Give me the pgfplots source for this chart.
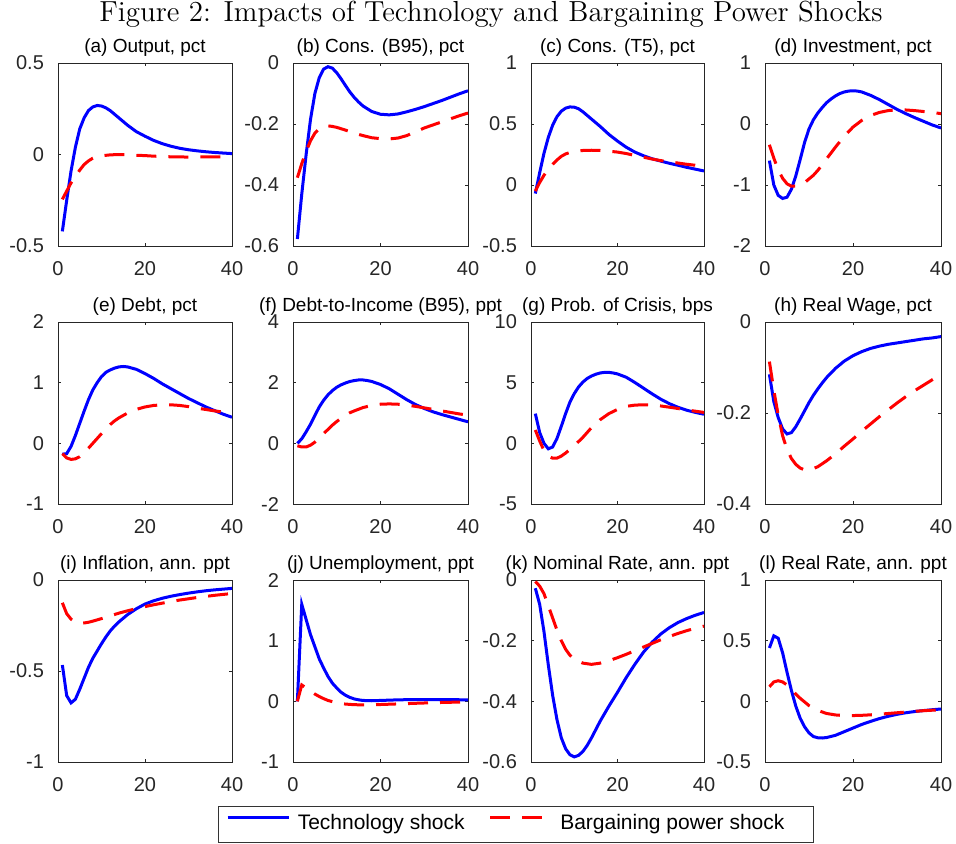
\documentclass[border=0pt]{standalone}
\usepackage{fontspec}
\usepackage{pgfplots}
\pgfplotsset{compat=1.18}
\newfontfamily\arial{Liberation Sans}
\pgfplotsset{
  panel/.style={
    scale only axis, anchor=north west,
    xmin=0, xmax=40, xtick={0,20,40},
    scaled ticks=false,
    axis line style={draw=black!85, line width=0.5pt},
    tick style={draw=black!85, line width=0.5pt},
    major tick length=1.5pt, tick align=inside,
    ticklabel style={font=\arial\fontsize{10}{12}\selectfont, text=black!85},
    xticklabel style={inner sep=0pt, anchor=north, yshift=-7.8pt},
    yticklabel style={inner sep=0pt, anchor=east, xshift=-6.85pt},
    /pgf/number format/assume math mode=true,
    title style={font=\arial\fontsize{9.5}{11}\selectfont, at={(0.5,1)}, anchor=base, yshift=-0.5pt, inner sep=0pt},
  },
  tech/.style={color=blue, line width=1.5pt, solid},
  barg/.style={color=red, line width=1.5pt, dash pattern=on 10pt off 6pt},
}
\begin{document}
\begin{tikzpicture}
\path[use as bounding box] (0,0) rectangle (478pt,-421.5pt);
\node[anchor=base, font=\fontsize{14.5}{17}\selectfont, inner sep=0pt] at (245.5pt,-10.8pt) {Figure 2: Impacts of Technology and Bargaining Power Shocks};

% ---------- Row 1 ----------
\begin{axis}[panel, at={(29pt,-31.5pt)}, width=87pt, height=91.5pt,
  ymin=-0.5, ymax=0.5, ytick={-0.5,0,0.5}, title={(a) Output, pct}]
\addplot[tech] coordinates {(1,-0.42)(2,-0.25)(3,-0.09)(4,0.04)(5,0.14)(6,0.2)(7,0.24)(8,0.26)(9,0.268)(10,0.265)(11,0.255)(12,0.24)(13,0.22)(14,0.2)(16,0.16)(18,0.125)(20,0.1)(22,0.077)(24,0.059)(26,0.045)(28,0.034)(30,0.026)(32,0.02)(34,0.015)(36,0.011)(38,0.008)(40,0.005)};
\addplot[barg] coordinates {(1,-0.245)(2,-0.2)(3,-0.155)(4,-0.12)(5,-0.085)(6,-0.055)(7,-0.035)(8,-0.02)(9,-0.012)(10,-0.007)(12,-0.002)(14,0.0)(16,-0.001)(18,-0.004)(20,-0.006)(22,-0.009)(25,-0.012)(30,-0.014)(35,-0.013)(40,-0.012)};
\end{axis}

\begin{axis}[panel, at={(146.5pt,-31.5pt)}, width=87.5pt, height=91.5pt,
  ymin=-0.6, ymax=0, ytick={-0.6,-0.4,-0.2,0}, title={(b) Cons. (B95), pct}]
\addplot[tech] coordinates {(1,-0.577)(2,-0.43)(3,-0.3)(4,-0.185)(5,-0.1)(6,-0.048)(7,-0.02)(8,-0.012)(9,-0.017)(10,-0.032)(11,-0.052)(12,-0.074)(13,-0.095)(14,-0.113)(15,-0.128)(16,-0.141)(18,-0.159)(20,-0.168)(22,-0.17)(24,-0.167)(26,-0.16)(28,-0.152)(30,-0.143)(32,-0.133)(34,-0.123)(36,-0.112)(38,-0.101)(40,-0.091)};
\addplot[barg] coordinates {(1,-0.376)(2,-0.33)(3,-0.29)(4,-0.255)(5,-0.23)(6,-0.215)(7,-0.208)(8,-0.206)(9,-0.208)(10,-0.211)(12,-0.22)(14,-0.23)(16,-0.238)(18,-0.245)(20,-0.248)(22,-0.249)(24,-0.246)(26,-0.238)(28,-0.226)(30,-0.213)(32,-0.203)(34,-0.193)(36,-0.183)(38,-0.173)(40,-0.164)};
\end{axis}

\begin{axis}[panel, at={(265.5pt,-31.5pt)}, width=86.5pt, height=91.5pt,
  ymin=-0.5, ymax=1, ytick={-0.5,0,0.5,1}, title={(c) Cons. (T5), pct}]
\addplot[tech] coordinates {(1,-0.07)(2,0.1)(3,0.26)(4,0.39)(5,0.49)(6,0.56)(7,0.605)(8,0.63)(9,0.64)(10,0.638)(11,0.625)(12,0.6)(13,0.57)(14,0.54)(16,0.48)(18,0.415)(20,0.36)(22,0.31)(24,0.27)(26,0.24)(28,0.215)(30,0.196)(32,0.178)(34,0.162)(36,0.145)(38,0.13)(40,0.115)};
\addplot[barg] coordinates {(1,-0.05)(2,0.02)(3,0.08)(4,0.13)(5,0.17)(6,0.205)(7,0.235)(8,0.255)(9,0.266)(10,0.275)(12,0.283)(14,0.285)(16,0.283)(18,0.277)(20,0.27)(22,0.258)(24,0.243)(26,0.228)(28,0.213)(30,0.2)(32,0.19)(34,0.18)(36,0.17)(38,0.162)(40,0.155)};
\end{axis}

\begin{axis}[panel, at={(382.5pt,-31.5pt)}, width=88pt, height=91.5pt,
  ymin=-2, ymax=1, ytick={-2,-1,0,1}, title={(d) Investment, pct}]
\addplot[tech] coordinates {(1,-0.6)(2,-1.0)(3,-1.17)(4,-1.22)(5,-1.2)(6,-1.07)(7,-0.85)(8,-0.58)(9,-0.3)(10,-0.08)(11,0.07)(12,0.18)(13,0.27)(14,0.35)(15,0.41)(16,0.46)(17,0.5)(18,0.525)(19,0.54)(20,0.545)(21,0.54)(22,0.525)(24,0.47)(26,0.4)(28,0.32)(30,0.24)(32,0.17)(34,0.105)(36,0.045)(38,-0.015)(40,-0.065)};
\addplot[barg] coordinates {(1,-0.34)(2,-0.56)(3,-0.75)(4,-0.89)(5,-0.98)(6,-1.02)(7,-1.02)(8,-1.0)(9,-0.96)(10,-0.9)(11,-0.84)(12,-0.76)(13,-0.67)(14,-0.57)(16,-0.38)(18,-0.2)(20,-0.05)(22,0.06)(24,0.14)(26,0.19)(28,0.22)(30,0.233)(32,0.23)(34,0.22)(36,0.205)(38,0.19)(40,0.17)};
\end{axis}

% ---------- Row 2 ----------
\begin{axis}[panel, at={(29pt,-161pt)}, width=87pt, height=91pt,
  ymin=-1, ymax=2, ytick={-1,0,1,2}, title={(e) Debt, pct}]
\addplot[tech] coordinates {(1,-0.18)(2,-0.17)(3,-0.05)(4,0.13)(5,0.33)(6,0.53)(7,0.72)(8,0.88)(9,1.0)(10,1.1)(11,1.17)(12,1.21)(13,1.24)(14,1.26)(15,1.267)(16,1.26)(18,1.22)(20,1.15)(22,1.07)(24,0.98)(26,0.9)(28,0.82)(30,0.74)(32,0.67)(34,0.6)(36,0.54)(38,0.48)(40,0.43)};
\addplot[barg] coordinates {(1,-0.17)(2,-0.24)(3,-0.265)(4,-0.255)(5,-0.22)(6,-0.16)(7,-0.08)(8,0.0)(9,0.08)(10,0.16)(11,0.24)(12,0.31)(13,0.37)(14,0.42)(16,0.5)(18,0.56)(20,0.6)(22,0.625)(24,0.635)(26,0.635)(28,0.625)(30,0.605)(32,0.58)(34,0.558)(36,0.535)(38,0.515)(40,0.495)};
\end{axis}

\begin{axis}[panel, at={(146.5pt,-161pt)}, width=87.5pt, height=91pt,
  ymin=-2, ymax=4, ytick={-2,0,2,4}, title={(f) Debt-to-Income (B95), ppt}]
\addplot[tech] coordinates {(1,0.0)(2,0.15)(3,0.38)(4,0.63)(5,0.92)(6,1.2)(7,1.42)(8,1.6)(9,1.74)(10,1.85)(11,1.93)(12,1.99)(13,2.04)(14,2.07)(15,2.09)(16,2.09)(17,2.07)(18,2.04)(20,1.94)(22,1.8)(24,1.62)(26,1.44)(28,1.28)(30,1.15)(32,1.04)(34,0.95)(36,0.87)(38,0.79)(40,0.71)};
\addplot[barg] coordinates {(1,-0.08)(2,-0.12)(3,-0.12)(4,-0.06)(5,0.04)(6,0.17)(7,0.32)(8,0.46)(9,0.6)(10,0.72)(11,0.83)(12,0.93)(13,1.01)(14,1.07)(16,1.18)(18,1.25)(20,1.29)(22,1.3)(24,1.29)(26,1.26)(28,1.22)(30,1.17)(32,1.12)(34,1.07)(36,1.02)(38,0.97)(40,0.93)};
\end{axis}

\begin{axis}[panel, at={(265.5pt,-161pt)}, width=86.5pt, height=91pt,
  ymin=-5, ymax=10, ytick={-5,0,5,10}, title={(g) Prob. of Crisis, bps}]
\addplot[tech] coordinates {(1,2.45)(2,0.9)(3,0.0)(4,-0.45)(5,-0.3)(6,0.4)(7,1.4)(8,2.45)(9,3.4)(10,4.1)(11,4.65)(12,5.05)(13,5.35)(14,5.55)(15,5.7)(16,5.8)(17,5.85)(18,5.85)(19,5.8)(20,5.72)(22,5.45)(24,5.02)(26,4.55)(28,4.08)(30,3.64)(32,3.27)(34,2.97)(36,2.73)(38,2.55)(40,2.4)};
\addplot[barg] coordinates {(1,1.1)(2,0.2)(3,-0.6)(4,-1.05)(5,-1.22)(6,-1.22)(7,-1.05)(8,-0.8)(9,-0.5)(10,-0.2)(11,0.15)(12,0.5)(13,0.9)(14,1.3)(16,1.95)(18,2.45)(20,2.8)(22,3.05)(24,3.15)(26,3.18)(28,3.15)(30,3.08)(32,2.98)(34,2.87)(36,2.75)(38,2.65)(40,2.55)};
\end{axis}

\begin{axis}[panel, at={(382.5pt,-161pt)}, width=88pt, height=91pt,
  ymin=-0.4, ymax=0, ytick={-0.4,-0.2,0}, title={(h) Real Wage, pct}]
\addplot[tech] coordinates {(1,-0.115)(2,-0.175)(3,-0.21)(4,-0.235)(5,-0.246)(6,-0.243)(7,-0.23)(8,-0.213)(9,-0.195)(10,-0.177)(11,-0.161)(12,-0.147)(13,-0.134)(14,-0.122)(16,-0.102)(18,-0.086)(20,-0.074)(22,-0.065)(24,-0.058)(26,-0.053)(28,-0.049)(30,-0.046)(32,-0.043)(34,-0.04)(36,-0.037)(38,-0.035)(40,-0.032)};
\addplot[barg] coordinates {(1,-0.087)(2,-0.15)(3,-0.205)(4,-0.25)(5,-0.28)(6,-0.3)(7,-0.313)(8,-0.321)(9,-0.325)(10,-0.325)(11,-0.322)(12,-0.318)(14,-0.305)(16,-0.29)(18,-0.273)(20,-0.257)(22,-0.24)(24,-0.224)(26,-0.208)(28,-0.193)(30,-0.178)(32,-0.164)(34,-0.151)(36,-0.139)(38,-0.127)(40,-0.116)};
\end{axis}

% ---------- Row 3 ----------
\begin{axis}[panel, at={(29pt,-290pt)}, width=87pt, height=91pt,
  ymin=-1, ymax=0, ytick={-1,-0.5,0}, title={(i) Inflation, ann. ppt}]
\addplot[tech] coordinates {(1,-0.467)(2,-0.635)(3,-0.675)(4,-0.655)(5,-0.6)(6,-0.54)(7,-0.48)(8,-0.43)(9,-0.39)(10,-0.35)(11,-0.313)(12,-0.28)(13,-0.253)(14,-0.23)(16,-0.19)(18,-0.158)(20,-0.132)(22,-0.114)(24,-0.1)(26,-0.089)(28,-0.08)(30,-0.072)(32,-0.065)(34,-0.059)(36,-0.054)(38,-0.05)(40,-0.046)};
\addplot[barg] coordinates {(1,-0.125)(2,-0.185)(3,-0.215)(4,-0.232)(5,-0.237)(6,-0.236)(7,-0.232)(8,-0.226)(10,-0.212)(12,-0.197)(14,-0.182)(16,-0.169)(18,-0.157)(20,-0.146)(22,-0.136)(24,-0.127)(26,-0.118)(28,-0.11)(30,-0.103)(32,-0.096)(34,-0.09)(36,-0.084)(38,-0.079)(40,-0.074)};
\end{axis}

\begin{axis}[panel, at={(146.5pt,-290pt)}, width=87.5pt, height=91pt,
  ymin=-1, ymax=2, ytick={-1,0,1,2}, title={(j) Unemployment, ppt},
  legend columns=2,
  legend cell align=left,
  legend image code/.code={\draw[#1] (0pt,3.3pt) -- (30.5pt,3.3pt);},
  legend style={at={(-0.430,-0.240)}, anchor=north west,
    draw=black!80, line width=0.4pt, fill=white,
    inner xsep=4pt, inner ysep=4.1pt,
    font=\arial\fontsize{10.5}{12}\selectfont,
    nodes={inner sep=0pt, text height=7.6pt, text depth=2.2pt},
    /tikz/every odd column/.style={column sep=3.8pt},
    /tikz/every even column/.style={column sep=12pt}},
  ]
\addplot[tech] coordinates {(1,0.0)(2,1.6)(3,1.35)(4,1.1)(5,0.9)(6,0.7)(7,0.55)(8,0.41)(9,0.3)(10,0.22)(11,0.15)(12,0.1)(13,0.065)(14,0.04)(15,0.025)(16,0.015)(18,0.01)(20,0.015)(24,0.025)(28,0.03)(32,0.03)(36,0.028)(40,0.025)};
\addplot[barg] coordinates {(1,0.0)(2,0.27)(3,0.22)(4,0.17)(5,0.12)(6,0.08)(7,0.045)(8,0.015)(10,-0.025)(12,-0.045)(14,-0.055)(16,-0.058)(18,-0.057)(20,-0.052)(24,-0.042)(28,-0.032)(32,-0.022)(36,-0.015)(40,-0.01)};
\legend{Technology shock, Bargaining power shock\hspace*{10.5pt}}
\end{axis}

\begin{axis}[panel, at={(265.5pt,-290pt)}, width=86.5pt, height=91pt,
  ymin=-0.6, ymax=0, ytick={-0.6,-0.4,-0.2,0}, title={(k) Nominal Rate, ann. ppt}]
\addplot[tech] coordinates {(1,-0.027)(2,-0.08)(3,-0.17)(4,-0.28)(5,-0.38)(6,-0.46)(7,-0.52)(8,-0.556)(9,-0.576)(10,-0.583)(11,-0.578)(12,-0.565)(13,-0.545)(14,-0.52)(16,-0.465)(18,-0.416)(20,-0.37)(22,-0.322)(24,-0.278)(26,-0.238)(28,-0.205)(30,-0.178)(32,-0.157)(34,-0.14)(36,-0.127)(38,-0.116)(40,-0.107)};
\addplot[barg] coordinates {(1,-0.005)(2,-0.02)(3,-0.045)(4,-0.085)(5,-0.125)(6,-0.165)(7,-0.2)(8,-0.228)(9,-0.248)(10,-0.262)(12,-0.274)(14,-0.278)(16,-0.274)(18,-0.266)(20,-0.256)(22,-0.245)(24,-0.233)(26,-0.221)(28,-0.209)(30,-0.197)(32,-0.186)(34,-0.176)(36,-0.167)(38,-0.159)(40,-0.152)};
\end{axis}

\begin{axis}[panel, at={(382.5pt,-290pt)}, width=88pt, height=91pt,
  ymin=-0.5, ymax=1, ytick={-0.5,0,0.5,1}, title={(l) Real Rate, ann. ppt}]
\addplot[tech] coordinates {(1,0.44)(2,0.54)(3,0.52)(4,0.4)(5,0.24)(6,0.09)(7,-0.04)(8,-0.14)(9,-0.21)(10,-0.26)(11,-0.29)(12,-0.3)(13,-0.302)(14,-0.298)(16,-0.28)(18,-0.25)(20,-0.22)(22,-0.19)(24,-0.165)(26,-0.142)(28,-0.123)(30,-0.107)(32,-0.094)(34,-0.084)(36,-0.076)(38,-0.069)(40,-0.063)};
\addplot[barg] coordinates {(1,0.12)(2,0.16)(3,0.17)(4,0.16)(5,0.135)(6,0.1)(7,0.06)(8,0.025)(9,-0.005)(10,-0.035)(12,-0.075)(14,-0.1)(16,-0.112)(18,-0.117)(20,-0.117)(22,-0.115)(24,-0.111)(26,-0.106)(28,-0.1)(30,-0.094)(32,-0.088)(34,-0.082)(36,-0.077)(38,-0.073)(40,-0.069)};
\end{axis}
\end{tikzpicture}
\end{document}
